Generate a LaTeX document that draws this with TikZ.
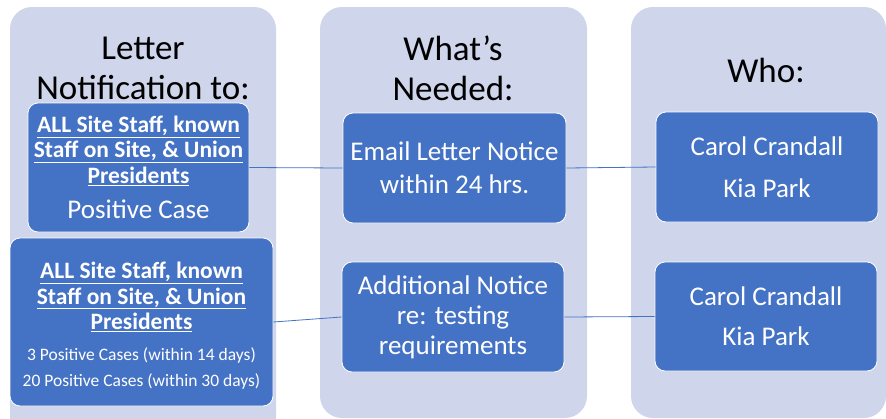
\documentclass[tikz,border=0pt]{standalone}
\usepackage{fontspec}
\setmainfont{Carlito}
\definecolor{panelbg}{HTML}{CFD5EA}
\definecolor{boxblue}{HTML}{4472C4}

\begin{document}
\begin{tikzpicture}[x=1pt,y=-1pt,
  panel/.style={fill=panelbg,rounded corners=22pt},
  card/.style={fill=boxblue,draw=white,line width=0.8pt,rounded corners=10pt,
    text=white,align=center,inner sep=0pt},
  heading/.style={align=center,font=\fontsize{35}{40}\selectfont},
  boldhead/.style={font=\fontsize{23.5}{25.5}\selectfont\bfseries},
  link/.style={draw=boxblue,line width=0.8pt}]
\useasboundingbox (0,0) rectangle (886,418);
\begin{scope}
\clip (0,0) rectangle (886,418);
\fill[panel] (10,7) rectangle (276,450);
\fill[panel] (320,7) rectangle (587,418);
\fill[panel] (631,7) rectangle (886,418);
\end{scope}

\node[heading] (lettertitle) at (143,68) {Letter\\Notification to:};
\node[heading] (neededtitle) at (453,68) {What’s\\Needed:};
\node[heading] (whotitle) at (766,70) {Who:};

\node[card,boldhead,minimum width=221pt,minimum height=129pt] (l1) at (138.5,167.5)
  {\underline{ALL Site Staff, known}\\
   \underline{Staff on Site, \& Union}\\ \underline{Presidents}\\[10pt]
   {\fontsize{27}{30}\selectfont\mdseries Positive Case}};
\node[card,boldhead,minimum width=263pt,minimum height=168pt] (l2) at (141.5,322)
  {\rule{0pt}{24pt}\underline{ALL Site Staff, known}\\
   \underline{Staff on Site, \& Union}\\ \underline{Presidents}\\[5pt]
   {\fontsize{17.5}{20}\selectfont\mdseries 3 Positive Cases (within 14 days)}\\[1pt]
   {\fontsize{17.5}{20}\selectfont\mdseries 20 Positive Cases (within 30 days)}};

\node[card,minimum width=223pt,minimum height=110pt,
  font=\fontsize{27}{33}\selectfont] (m1) at (454.5,168)
  {Email Letter Notice\\within 24 hrs.};
\node[card,minimum width=222pt,minimum height=110pt,
  font=\fontsize{27}{30}\selectfont] (m2) at (453,317)
  {Additional Notice\\re: testing\\requirements};

\node[card,minimum width=222pt,minimum height=110pt,
  font=\fontsize{27}{42}\selectfont] (r1) at (767,167)
  {Carol Crandall\\Kia Park};
\node[card,minimum width=222pt,minimum height=109pt,
  font=\fontsize{27}{40}\selectfont] (r2) at (766,316.5)
  {Carol Crandall\\Kia Park};

\draw[link] (l1.east) -- (m1.west);
\draw[link] (m1.east) -- (r1.west);
\draw[link] (l2.east) -- (m2.west);
\draw[link] (m2.east) -- (r2.west);
\end{tikzpicture}
\end{document}
